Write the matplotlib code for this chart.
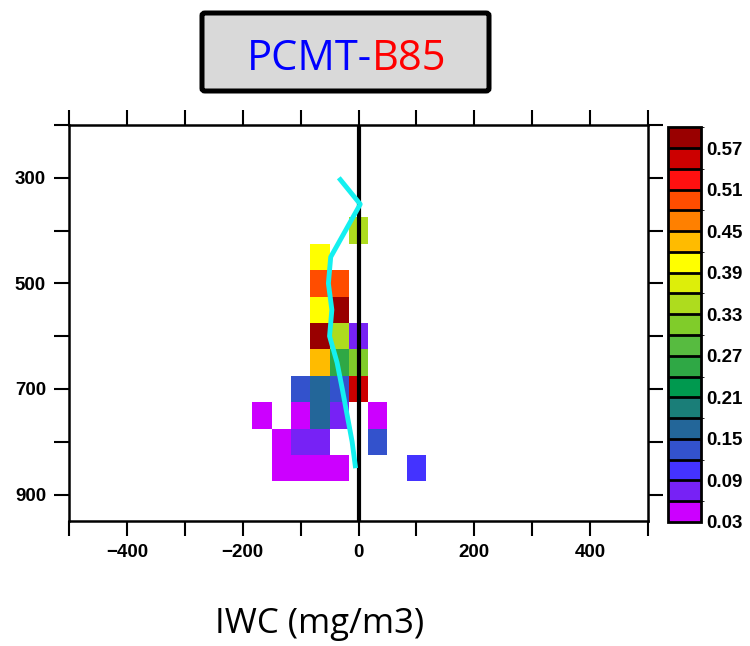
import matplotlib
matplotlib.use("Agg")
import matplotlib.pyplot as plt
import numpy as np
from matplotlib.colors import ListedColormap, BoundaryNorm
from matplotlib.patches import FancyBboxPatch

# ---- data ----
# IWC bin centres (mg/m3) and pressure levels (hPa) of the joint histogram
iwc_bins = [-167, -133, -100, -67, -33, 0, 33, 67, 100]
p_levels = [400, 450, 500, 550, 600, 650, 700, 750, 800, 850]

# relative frequency, one row per pressure level (nan = empty cell)
nan = np.nan
freq_400 = [nan, nan, nan, nan, nan, 0.345, nan, nan, nan]
freq_450 = [nan, nan, nan, 0.405, nan, nan, nan, nan, nan]
freq_500 = [nan, nan, nan, 0.495, 0.495, nan, nan, nan, nan]
freq_550 = [nan, nan, nan, 0.405, 0.585, nan, nan, nan, nan]
freq_600 = [nan, nan, nan, 0.585, 0.345, 0.075, nan, nan, nan]
freq_650 = [nan, nan, nan, 0.435, 0.255, 0.315, nan, nan, nan]
freq_700 = [nan, nan, 0.135, 0.165, 0.135, 0.555, nan, nan, nan]
freq_750 = [0.045, nan, 0.045, 0.165, 0.075, nan, 0.045, nan, nan]
freq_800 = [nan, 0.045, 0.075, 0.075, nan, nan, 0.135, nan, nan]
freq_850 = [nan, 0.045, 0.045, 0.045, 0.045, nan, nan, nan, 0.105]

# mean IWC profile (cyan line)
mean_p = [300, 350, 450, 500, 550, 600, 650, 700, 800, 850]
mean_iwc = [-34, 3, -48, -52, -46, -50, -37, -28, -11, -5]

levels = [0.03, 0.06, 0.09, 0.12, 0.15, 0.18, 0.21, 0.24, 0.27, 0.30,
          0.33, 0.36, 0.39, 0.42, 0.45, 0.48, 0.51, 0.54, 0.57, 0.60]
cbar_ticks = [0.03, 0.09, 0.15, 0.21, 0.27, 0.33, 0.39, 0.45, 0.51, 0.57]
colors = ['#CC00FF', '#7722F5', '#4433FF', '#3352CC', '#236699', '#1A7E78',
          '#00994F', '#2FA845', '#57BB40', '#80CC2A', '#AEDC1E', '#DDEE0A',
          '#FFFF00', '#FFBB00', '#FF8000', '#FF4D00', '#FF1010', '#CC0000',
          '#990000']

x_ticks = [-400, -200, 0, 200, 400]
x_ticklabels = ['\u2212400', '\u2212200', '0', '200', '400']
y_ticks = [300, 500, 700, 900]

freq = np.ma.masked_invalid(np.array([freq_400, freq_450, freq_500, freq_550,
                                      freq_600, freq_650, freq_700, freq_750,
                                      freq_800, freq_850]))

# ---- figure ----
fig = plt.figure(figsize=(7.5, 6.46), dpi=100)
ax = fig.add_axes([0.092, 0.1935, 0.772, 0.613])

cmap = ListedColormap(colors)
norm = BoundaryNorm(levels, cmap.N)
mesh = ax.pcolormesh(iwc_bins, p_levels, freq, shading='nearest',
                     cmap=cmap, norm=norm)

ax.axvline(0, color='black', lw=3, zorder=3)
ax.plot(mean_iwc, mean_p, color='#14F0F0', lw=3.5, zorder=4,
        solid_capstyle='butt')

ax.set_xlim(-500, 500)
ax.set_ylim(950, 200)
ax.set_xticks(x_ticks)
ax.set_xticklabels(x_ticklabels)
ax.set_yticks(y_ticks)
ax.set_xticks(np.arange(-500, 501, 100), minor=True)
ax.set_yticks(np.arange(200, 951, 100), minor=True)
for which in ('major', 'minor'):
    ax.tick_params(which=which, direction='out', length=10.5, width=1.5,
                   top=True, right=True, labelsize=13.5, pad=6)
for lab in ax.get_xticklabels() + ax.get_yticklabels():
    lab.set_fontweight('bold')
    lab.set_family('Liberation Sans')
for sp in ax.spines.values():
    sp.set_linewidth(1.8)

# ---- colour bar ----
cax = fig.add_axes([0.8907, 0.192, 0.044, 0.611])
cb = fig.colorbar(mesh, cax=cax, ticks=cbar_ticks, drawedges=True)
cb.outline.set_linewidth(2)
cb.dividers.set_linewidth(2)
cb.dividers.set_color('black')
cax.tick_params(length=0, pad=4, labelsize=13.5)
for lab in cax.get_yticklabels():
    lab.set_fontweight('bold')
    lab.set_family('Liberation Sans')

# ---- title box ----
box = FancyBboxPatch((202 / 750, 1 - 91 / 646), 287 / 750, 78 / 646,
                     boxstyle='round,pad=0,rounding_size=0.004',
                     transform=fig.transFigure, facecolor='#D9D9D9',
                     edgecolor='black', linewidth=3.6)
fig.patches.append(box)
t1 = fig.text(247 / 750, 1 - 70 / 646, 'PCMT-', color='#0000FF',
              fontsize=30, family='Open Sans', ha='left', va='baseline')
fig.canvas.draw()
bb = t1.get_window_extent()
fig.text(bb.x1 / fig.bbox.width, 1 - 70 / 646, 'B85', color='#FF0000',
         fontsize=30, family='Open Sans', ha='left', va='baseline')

fig.text(320 / 750, 1 - 624 / 646, 'IWC (mg/m3)', fontsize=25,
         family='Open Sans', ha='center', va='center')

fig.savefig('out.png', dpi=100)
